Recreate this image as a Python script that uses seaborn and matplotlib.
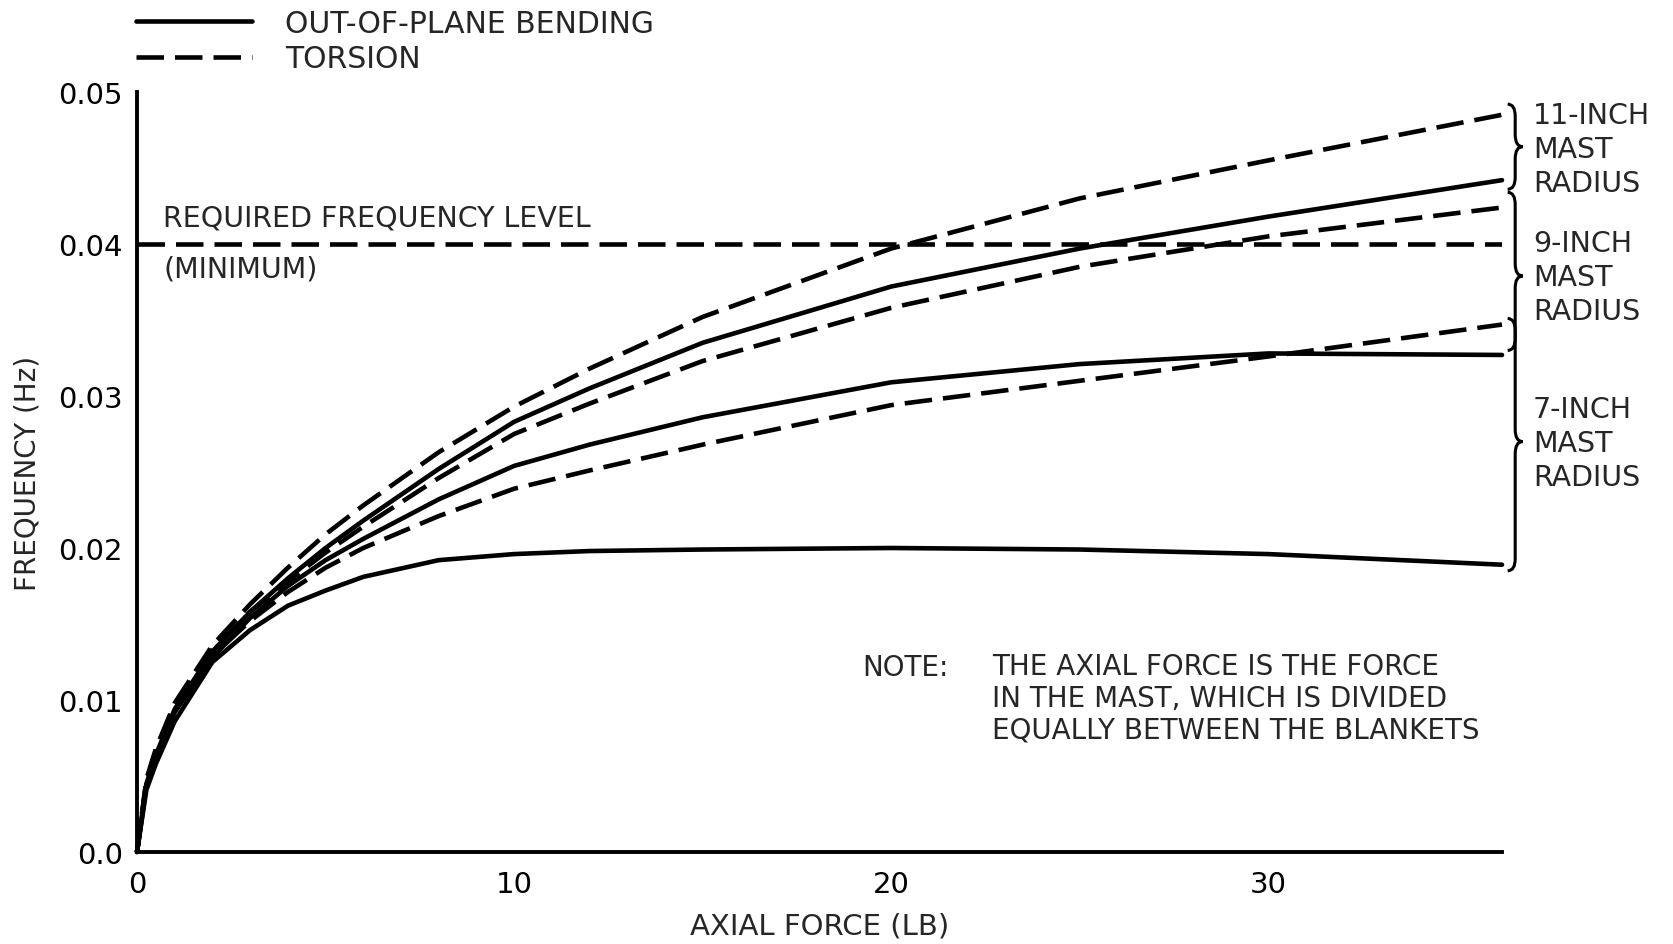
import numpy as np
import pandas as pd
import matplotlib
matplotlib.use("Agg")
import matplotlib.pyplot as plt
import seaborn as sns
from matplotlib.lines import Line2D
from matplotlib.path import Path
from matplotlib.patches import PathPatch

# values
force = [0, 0.25, 0.5, 1, 2, 3, 4, 5, 6, 8, 10, 12, 15, 20, 25, 30, 36.2]
tors_11 = [0, .0048, .0068, .0098, .0136, .0163, .0187, .0209, .0228, .0263, .0293, .0318, .0352, .0397, .0430, .0455, .0485]
bend_11 = [0, .0045, .0064, .0094, .0132, .0158, .0180, .0200, .0218, .0252, .0283, .0305, .0335, .0372, .0397, .0418, .0442]
tors_9 = [0, .0047, .0066, .0096, .0133, .0158, .0178, .0197, .0214, .0246, .0275, .0295, .0323, .0358, .0385, .0405, .0424]
bend_9 = [0, .0044, .0062, .0092, .0128, .0154, .0175, .0192, .0206, .0232, .0254, .0268, .0286, .0309, .0321, .0328, .0327]
tors_7 = [0, .0046, .0064, .0094, .0129, .0152, .0171, .0187, .0200, .0221, .0239, .0251, .0268, .0294, .0310, .0326, .0347]
bend_7 = [0, .0041, .0058, .0086, .0125, .0146, .0162, .0172, .0181, .0192, .0196, .0198, .0199, .0200, .0199, .0196, .0189]
required_freq = 0.04

x_ticks = [0, 10, 20, 30]
y_ticks = [0.0, 0.01, 0.02, 0.03, 0.04, 0.05]
y_tick_labels = ["0.0", "0.01", "0.02", "0.03", "0.04", "0.05"]

BEND = "OUT-OF-PLANE BENDING"
TORS = "TORSION"

series = {
    ("11", BEND): bend_11, ("11", TORS): tors_11,
    ("9", BEND): bend_9, ("9", TORS): tors_9,
    ("7", BEND): bend_7, ("7", TORS): tors_7,
}
rows = []
for (radius, mode), vals in series.items():
    for f, v in zip(force, vals):
        rows.append({"force": f, "freq": v, "mode": mode, "radius": radius})
df = pd.DataFrame(rows)

sns.set_style("white")
plt.rcParams["font.family"] = ["DejaVu Sans"]

W, H = 1674, 945
fig = plt.figure(figsize=(W / 100, H / 100), dpi=100)
ax = fig.add_axes([137 / W, 92 / H, 1365 / W, 760 / H])

lw = 3.3
dash = (6.0, 2.4)
sns.lineplot(data=df, x="force", y="freq", style="mode", units="radius",
             estimator=None, color="black", linewidth=lw,
             dashes={BEND: "", TORS: dash}, legend=False, ax=ax, clip_on=False)
ax.plot([0, force[-1]], [required_freq, required_freq], color="black",
        linewidth=lw, dashes=dash)

ax.set_xlim(0, force[-1])
ax.set_ylim(0, 0.05)
ax.set_xticks(x_ticks)
ax.set_yticks(y_ticks)
ax.set_yticklabels(y_tick_labels)
sns.despine(ax=ax)
for s in ["left", "bottom"]:
    ax.spines[s].set_linewidth(2.8)
    ax.spines[s].set_color("black")
ax.tick_params(axis="y", direction="in", length=16, width=2.2, pad=10,
               labelsize=21, colors="black")
ax.tick_params(axis="x", direction="in", length=20, width=2.2, pad=13,
               labelsize=21, colors="black")
ax.set_xlabel("AXIAL FORCE (LB)", fontsize=21, labelpad=10)
ax.set_ylabel("FREQUENCY (Hz)", fontsize=20, labelpad=12)

# legend above the plot
handles = [Line2D([], [], color="black", linewidth=lw),
           Line2D([], [], color="black", linewidth=lw, dashes=dash)]
fig.legend(handles, [BEND, TORS], loc="upper left",
           bbox_to_anchor=(118 / W, 1 + 8 / H), frameon=False,
           fontsize=21.5, handlelength=3.9, handletextpad=1.1,
           labelspacing=0.22, borderaxespad=0.2)

# annotations
ax.text(0.7, 0.0408, "REQUIRED FREQUENCY LEVEL", fontsize=20.5, va="bottom")
ax.text(0.7, 0.0393, "(MINIMUM)", fontsize=20.5, va="top")
fig.text(862 / W, 1 - 668 / H, "NOTE:", fontsize=20, va="center")
fig.text(992 / W, 1 - 653 / H,
         "THE AXIAL FORCE IS THE FORCE\nIN THE MAST, WHICH IS DIVIDED\nEQUALLY BETWEEN THE BLANKETS",
         fontsize=20, va="top", linespacing=1.17)

# curly braces grouping the curves by mast radius
def brace(ax, x0, y_top, y_bot, y_tip, w=0.2, r=0.0008):
    verts = [(x0 - w, y_top), (x0, y_top), (x0, y_top - r),
             (x0, y_tip + r), (x0, y_tip), (x0 + w, y_tip),
             (x0, y_tip), (x0, y_tip - r),
             (x0, y_bot + r), (x0, y_bot), (x0 - w, y_bot)]
    codes = [Path.MOVETO, Path.CURVE3, Path.CURVE3,
             Path.LINETO, Path.CURVE3, Path.CURVE3,
             Path.CURVE3, Path.CURVE3,
             Path.LINETO, Path.CURVE3, Path.CURVE3]
    ax.add_patch(PathPatch(Path(verts, codes), fill=False, lw=2.2,
                           edgecolor="black", clip_on=False))

brace(ax, 36.55, 0.0492, 0.0436, 0.0464)
brace(ax, 36.55, 0.0434, 0.0330, 0.0379)
brace(ax, 36.55, 0.0351, 0.0185, 0.0270)

for label, yc in [("11-INCH\nMAST\nRADIUS", 150), ("9-INCH\nMAST\nRADIUS", 278),
                  ("7-INCH\nMAST\nRADIUS", 444)]:
    fig.text(1533 / W, 1 - yc / H, label, fontsize=20.5, va="center",
             ha="left", linespacing=1.27)

fig.savefig("out.png", dpi=100)
